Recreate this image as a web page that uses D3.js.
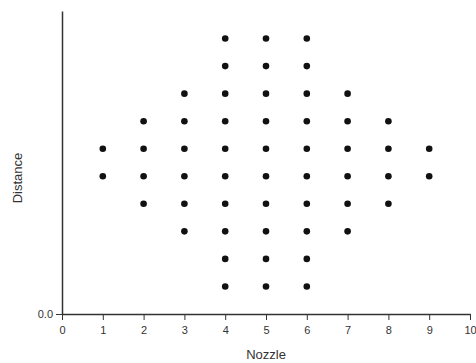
<!DOCTYPE html>
<html lang="en">
<head>
<meta charset="UTF-8">
<title>Nozzle vs Distance</title>
<script src="https://d3js.org/d3.v7.min.js"></script>
<style>
body { margin: 0; background: white; }
svg { display: block; font-family: "Liberation Sans", Arial, sans-serif; }
.axis path, .axis line { stroke: #333; }
.axis text { fill: #333; font-size: 11px; }
</style>
</head>
<body>
<svg></svg>
<script>
// data
const nozzles = [1, 2, 3, 4, 5, 6, 7, 8, 9];
const distances = [
  [5, 6],
  [4, 5, 6, 7],
  [3, 4, 5, 6, 7, 8],
  [1, 2, 3, 4, 5, 6, 7, 8, 9, 10],
  [1, 2, 3, 4, 5, 6, 7, 8, 9, 10],
  [1, 2, 3, 4, 5, 6, 7, 8, 9, 10],
  [3, 4, 5, 6, 7, 8],
  [4, 5, 6, 7],
  [5, 6]
];
const xTicks = [0, 1, 2, 3, 4, 5, 6, 7, 8, 9, 10];
const yTicks = [0];

let width = 476, height = 363;
let margin = {left: 62, top: 11, right: 6, bottom: 49};

let svg = d3.select("svg")
  .attr("width", width)
  .attr("height", height);

let x = d3.scaleLinear()
  .domain([0, 10])
  .range([margin.left, width - margin.right]);
let y = d3.scaleLinear()
  .domain([0, 11])
  .range([height - margin.bottom, margin.top]);

let points = [];
nozzles.forEach((n, i) => {
  distances[i].forEach(d => points.push({nozzle: n, distance: d}));
});

svg.append("g")
  .attr("class", "axis")
  .attr("transform", "translate(0," + y(0) + ")")
  .call(d3.axisBottom(x).tickValues(xTicks).tickFormat(d3.format("d")).tickSize(6).tickPadding(6).tickSizeOuter(0))
  .call(g => g.select(".domain").attr("stroke-width", 1.5));

svg.append("g")
  .attr("class", "axis")
  .attr("transform", "translate(" + x(0) + ",0)")
  .call(d3.axisLeft(y).tickValues(yTicks).tickFormat(d3.format(".1f")).tickSize(6).tickPadding(3).tickSizeOuter(0))
  .call(g => g.select(".domain").attr("stroke-width", 1.5));

svg.append("g")
  .selectAll("circle")
  .data(points)
  .join("circle")
  .attr("cx", d => x(d.nozzle))
  .attr("cy", d => y(d.distance))
  .attr("r", 3.3)
  .attr("fill", "#111");

svg.append("text")
  .attr("x", (x(0) + x(10)) / 2)
  .attr("y", 359)
  .attr("text-anchor", "middle")
  .attr("font-size", 13)
  .attr("fill", "#333")
  .text("Nozzle");

svg.append("text")
  .attr("transform", "translate(22," + 178 + ") rotate(-90)")
  .attr("text-anchor", "middle")
  .attr("font-size", 13)
  .attr("fill", "#333")
  .text("Distance");
</script>
</body>
</html>
